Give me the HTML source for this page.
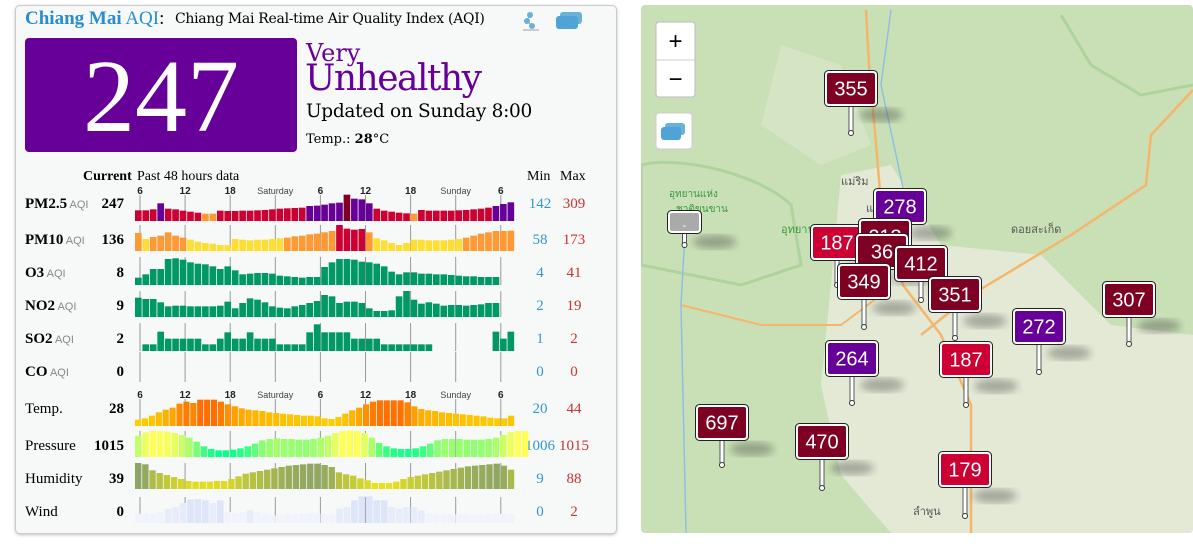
<!DOCTYPE html>
<html><head><meta charset="utf-8">
<style>
body{margin:0;width:1193px;height:554px;background:#fff;position:relative;overflow:hidden;font-family:"Liberation Serif",serif}
.panel{position:absolute;left:15px;top:5px;width:600px;height:527px;border:1px solid #ccc;border-radius:5px;background:#f7f8f8;box-shadow:0 1px 3px rgba(0,0,0,.25)}
.ab{position:absolute;white-space:nowrap}
</style></head><body>
<div class="panel"></div>
<div class="ab" style="left:25px;top:8px;font-size:19px;color:#2a8dd0;font-family:'Liberation Serif',serif;"><b>Chiang Mai</b> <span>AQI</span><span style="color:#000">:</span></div>
<div class="ab" style="left:175px;top:11px;width:312px;overflow:hidden;font-size:14px;font-family:'DejaVu Serif',serif;letter-spacing:-0.3px">Chiang Mai Real-time Air Quality Index (AQI)</div>
<svg class="ab" style="left:522px;top:10px" width="65" height="22"><circle cx="8" cy="5" r="3" fill="#6ab0d8"/><circle cx="5" cy="11" r="3" fill="#6ab0d8"/><circle cx="10" cy="16" r="3" fill="#6ab0d8"/><path d="M8 5L5 11L10 16" stroke="#6ab0d8" fill="none"/><rect x="1" y="19" width="16" height="2" fill="#ccc"/><rect x="38" y="2" width="22" height="12" rx="3" fill="#6ab0d8"/><rect x="34" y="6" width="22" height="13" rx="3" fill="#4fa3d6"/></svg>
<div class="ab" style="left:25px;top:38px;width:272px;height:114px;background:#660099;border-radius:4px;color:#fff;font-size:104px;text-align:center;line-height:118px;">247</div>
<div class="ab" style="left:306px;top:39px;color:#660099;font-size:24px;font-family:'DejaVu Serif',serif">Very</div>
<div class="ab" style="left:305px;top:58px;color:#660099;font-size:36px;font-family:'DejaVu Serif',serif;letter-spacing:-1.5px">Unhealthy</div>
<div class="ab" style="left:306px;top:101px;font-size:18.5px;font-family:'DejaVu Serif',serif;letter-spacing:-0.3px">Updated on Sunday 8:00</div>
<div class="ab" style="left:306px;top:132px;font-size:13px;font-family:'DejaVu Serif',serif">Temp.: <b>28</b>°C</div>
<svg class="ab" style="left:0;top:0" width="640" height="554" id="ch" font-family="'Liberation Sans',sans-serif"></svg>

<svg class="ab" style="left:641px;top:5px;border-radius:4px" width="552" height="528" font-family="'Liberation Sans',sans-serif">
<defs><filter id="bl"><feGaussianBlur stdDeviation="4"/></filter></defs>
<rect width="552" height="528" fill="#c9e0b6"/>
<path d="M200 170 L250 160 L300 240 L400 250 L470 320 L552 330 L552 528 L250 528 L200 470 L180 380 L190 280 Z" fill="#e9eadc" opacity=".85"/>
<path d="M140 40 L200 60 L230 140 L180 160 L120 120Z" fill="#dde6cf" opacity=".6"/>
<path d="M0 160 C40 150 120 170 150 200 L160 260 L100 280 L0 260Z" fill="none" stroke="#9fc98a" stroke-width="3" opacity=".6"/>
<path d="M420 10 L450 60 L500 90 L552 80" fill="none" stroke="#9fc98a" stroke-width="3" opacity=".6"/>
<path d="M225 5 L228 60 L236 150 L240 200 L262 280 L300 330 L330 400 L330 528" fill="none" stroke="#f5b56a" stroke-width="2.5"/>
<path d="M552 85 L510 130 L505 180 L430 230 L330 290 L280 330" fill="none" stroke="#f5b56a" stroke-width="2.5"/>
<path d="M240 290 L200 320 L120 320 L40 300" fill="none" stroke="#f5b56a" stroke-width="2"/>
<path d="M250 5 L240 80 L255 150 L270 220" fill="none" stroke="#8fc0e0" stroke-width="1.5"/>
<path d="M45 210 L40 300 L45 528" fill="none" stroke="#8fc0e0" stroke-width="1.5"/>
<text x="200" y="180" font-size="11" fill="#555">แม่ริม</text>
<text x="225" y="207" font-size="11" fill="#555">แม่โจ้</text>
<text x="370" y="228" font-size="11" fill="#555">ดอยสะเก็ด</text>
<text x="28" y="192" font-size="10" fill="#3a9a3a">อุทยานแห่ง</text>
<text x="35" y="207" font-size="10" fill="#3a9a3a">ชาติขุนขาน</text>
<text x="140" y="228" font-size="11" fill="#3a9a3a">อุทยานแห่ง</text>
<text x="272" y="510" font-size="11" fill="#555">ลำพูน</text>
<g id="mk"></g>
<rect x="15" y="17" width="39" height="75" rx="3" fill="#fff" stroke="#bbb"/>
<line x1="15" y1="55" x2="54" y2="55" stroke="#ccc"/>
<text x="34.5" y="44" font-size="24" text-anchor="middle">+</text>
<text x="34.5" y="82" font-size="24" text-anchor="middle">−</text>
<rect x="15" y="108" width="36" height="36" rx="3" fill="#fff" stroke="#ccc"/>
<rect x="24" y="118" width="20" height="12" rx="3" fill="#6ab0d8"/><rect x="20" y="122" width="20" height="13" rx="3" fill="#4fa3d6"/>
</svg>

<script>
const NS="http://www.w3.org/2000/svg";
const ch=document.getElementById('ch');
function el(p,t,a,txt){const e=document.createElementNS(NS,t);for(const k in a)e.setAttribute(k,a[k]);if(txt!==undefined)e.textContent=txt;p.appendChild(e);return e;}
const X0=135,ST=7.45,TX=[140,185.1,230.2,275.3,320.4,365.5,410.6,455.7,500.8];
const SF="'Liberation Serif',serif";
function ticks(y1,y2){TX.forEach(x=>el(ch,'line',{x1:x,x2:x,y1:y1,y2:y2,stroke:'#999','stroke-width':1}));}
function tlabels(y){const L=['6','12','18','Saturday','6','12','18','Sunday','6'];L.forEach((t,i)=>{const s=t.length>2;el(ch,'text',{x:TX[i],y:y,'font-size':s?9:10,'font-weight':s?'normal':'bold','text-anchor':'middle',fill:s?'#444':'#222'},t)});}
function lerp(a,b,t){return a.map((v,i)=>Math.round(v+(b[i]-v)*t));}
function bars(base,zbase,tops,colf,n,step){step=step||ST;tops.forEach((tp,i)=>{if(tp==null)return;const h=(zbase-tp)/3;el(ch,'rect',{x:X0+i*step,y:base-h,width:step-0.8,height:h,fill:colf(h,i)})});}
el(ch,'text',{x:83,y:180,'font-size':14,'font-weight':'bold','font-family':SF},'Current');
el(ch,'text',{x:137,y:180,'font-size':14,'font-family':SF},'Past 48 hours data');
el(ch,'text',{x:527,y:180,'font-size':14,'font-family':SF},'Min');
el(ch,'text',{x:560,y:180,'font-size':14,'font-family':SF},'Max');
tlabels(194);tlabels(398);
const rows=[['PM2.5',1,'247',208,'142','309'],['PM10',1,'136',244,'58','173'],['O3',1,'8',277,'4','41'],['NO2',1,'9',310,'2','19'],['SO2',1,'2',343,'1','2'],['CO',1,'0',376,'0','0'],['Temp.',0,'28',413,'20','44'],['Pressure',0,'1015',450,'1006','1015'],['Humidity',0,'39',483,'9','88'],['Wind',0,'0',516,'0','2']];
rows.forEach(r=>{const t=el(ch,'text',{x:25,y:r[3],'font-size':15,'font-family':SF,'font-weight':r[1]?'bold':'normal'},r[0]);
 if(r[1]){el(t,'tspan',{'font-size':11,'font-weight':'normal',fill:'#888','font-family':"'Liberation Sans',sans-serif"},' AQI');}
 el(ch,'text',{x:124,y:r[3],'font-size':15,'font-weight':'bold','text-anchor':'end','font-family':SF},r[2]);
 el(ch,'text',{x:540,y:r[3],'font-size':15,'text-anchor':'middle',fill:'#3399cc','font-family':SF},r[4]);
 el(ch,'text',{x:574,y:r[3],'font-size':15,'text-anchor':'middle',fill:'#cc3333','font-family':SF},r[5]);});
ticks(195,221);ticks(225,251);ticks(257,285);ticks(291,317);ticks(323,351);ticks(352,382);ticks(399,426);ticks(431,457);ticks(463,489);ticks(497,523);
const pm25=[151,151,148,130,146,148,152,155,158,161,161,152,153,153,152,152,151,150,148,146,145,144,143,138,137,134,130,128,104,116,118,130,146,152,155,158,160,161,150,152,152,152,152,151,150,148,146,143,138,132,127];
bars(221,183,pm25,(h,i)=>i==28?'#7e0023':(i==9||i==10||i==37)?'#ff9933':(pm25[i]<=140?'#660099':'#cc0033'));
const pm10=[220,238,232,228,218,228,234,240,246,250,252,256,256,238,240,242,240,240,238,236,234,230,228,224,222,218,214,196,207,210,208,218,236,242,250,256,250,240,240,242,242,242,240,238,234,228,222,218,214,214,213];
bars(251,274,pm10,(h,i)=>pm10[i]<212?'#cc0033':pm10[i]<=234?'#ff9933':'#ffde33');
const o3=[352,342,326,326,296,294,298,306,310,312,318,326,318,330,342,340,338,338,340,346,348,350,352,350,350,320,306,296,296,298,304,306,310,318,334,342,336,336,340,340,342,342,344,346,348,348,350,350,350];
bars(285,374,o3,()=>'#009966');
const no2=[414,418,418,428,440,438,438,440,440,440,440,438,426,446,430,416,420,428,440,444,446,440,436,430,424,406,410,430,426,426,430,446,454,454,452,410,394,420,432,428,432,438,436,436,438,436,434,430,430];
bars(317,472,no2,()=>'#009966');
const so2=[null,552,552,514,535,535,535,535,535,552,552,535,516,535,535,516,535,535,535,552,552,552,552,516,492,516,516,516,516,535,535,535,535,552,552,552,552,552,552,552,null,null,null,null,null,null,null,null,514,535,514];
bars(351,572,so2,()=>'#009966');
const temp=[178,174,166,156,148,142,130,124,128,118,118,118,124,132,138,144,148,150,152,156,158,160,162,164,166,166,168,174,176,170,160,150,142,132,124,120,120,120,120,126,138,146,150,152,156,158,160,162,164,166,168,172,174,174,166];
bars(426,197,temp,h=>{const t=Math.max(0,Math.min(1,(h-5)/21));return 'rgb('+lerp([255,204,0],[255,110,0],t*t).join(',')+')'},0,380/temp.length);
const pres=[226,216,212,212,214,218,224,232,244,258,266,270,270,268,264,258,250,240,236,234,236,236,238,238,236,232,226,218,212,210,212,218,232,248,258,264,266,266,264,258,250,240,236,236,236,238,238,238,236,232,224,216,212,212];
bars(457,290,pres,h=>{const t=Math.max(0,Math.min(1,(h-6)/20));return 'rgb('+lerp([0,255,140],[255,255,90],t).join(',')+')'},0,7.3);
const hum=[310,314,332,340,346,352,358,364,366,366,366,364,364,358,350,342,338,334,330,326,322,318,316,314,312,312,316,322,338,344,348,356,362,370,370,370,366,358,352,348,344,340,336,332,328,324,320,318,316,314,312,318,330];
bars(489,388,hum,h=>{const t=Math.max(0,Math.min(1,(h-6)/20));return 'rgb('+lerp([230,225,30],[140,165,100],t).join(',')+')'},0,380/hum.length);
const wind=[460,460,460,455,445,440,428,418,416,420,428,420,455,460,455,450,455,460,465,465,462,462,460,460,460,460,462,445,440,420,408,408,420,420,440,445,440,440,450,460,462,462,462,462,462,462,462,462,460,460,462];
bars(523,488,wind,h=>h>20?'#dde5f9':h>12?'#e6ecfa':'#f0f3fb');
const mk=document.getElementById('mk');const OX=641,OY=5;
const M=[['355',826,72,133,'#7e0023'],['-',669,212,245,'#aaa'],['187',812,226,285,'#cc0033'],['278',875,190,0,'#660099'],['213',860,220,0,'#7e0023'],['36x',857,235,0,'#7e0023'],['412',896,247,300,'#7e0023'],['349',839,265,327,'#7e0023'],['351',930,278,338,'#7e0023'],['307',1104,283,344,'#7e0023'],['272',1014,310,372,'#660099'],['264',827,342,403,'#660099'],['187',941,343,405,'#cc0033'],['697',697,406,465,'#7e0023'],['470',797,425,488,'#7e0023'],['179',940,453,516,'#cc0033']];
M.forEach(m=>{const x=m[1]-OX,y=m[2]-OY,w=m[0]=='-'?31:50,h=m[0]=='-'?20:33,cx=x+w/2;
 el(mk,'ellipse',{cx:cx+30,cy:y+h+10,rx:22,ry:7,fill:'#333',opacity:.35,filter:'url(#bl)'});
 if(m[3]){el(mk,'rect',{x:cx-2,y:y+h,width:4,height:m[3]-OY-y-h,fill:'#fff',stroke:'#333','stroke-width':.8});el(mk,'circle',{cx:cx,cy:m[3]-OY,r:2.5,fill:'#fff',stroke:'#333'});}
 el(mk,'rect',{x:x,y:y,width:w,height:h,rx:3,fill:m[4],stroke:'#fff','stroke-width':2});
 el(mk,'rect',{x:x-1.5,y:y-1.5,width:w+3,height:h+3,rx:4,fill:'none',stroke:'#222','stroke-width':1});
 el(mk,'text',{x:cx,y:y+h/2+7,'font-size':m[0]=='-'?11:20,'text-anchor':'middle',fill:'#fff'},m[0]=='36x'?'36':m[0]);});
</script>
</body></html>
